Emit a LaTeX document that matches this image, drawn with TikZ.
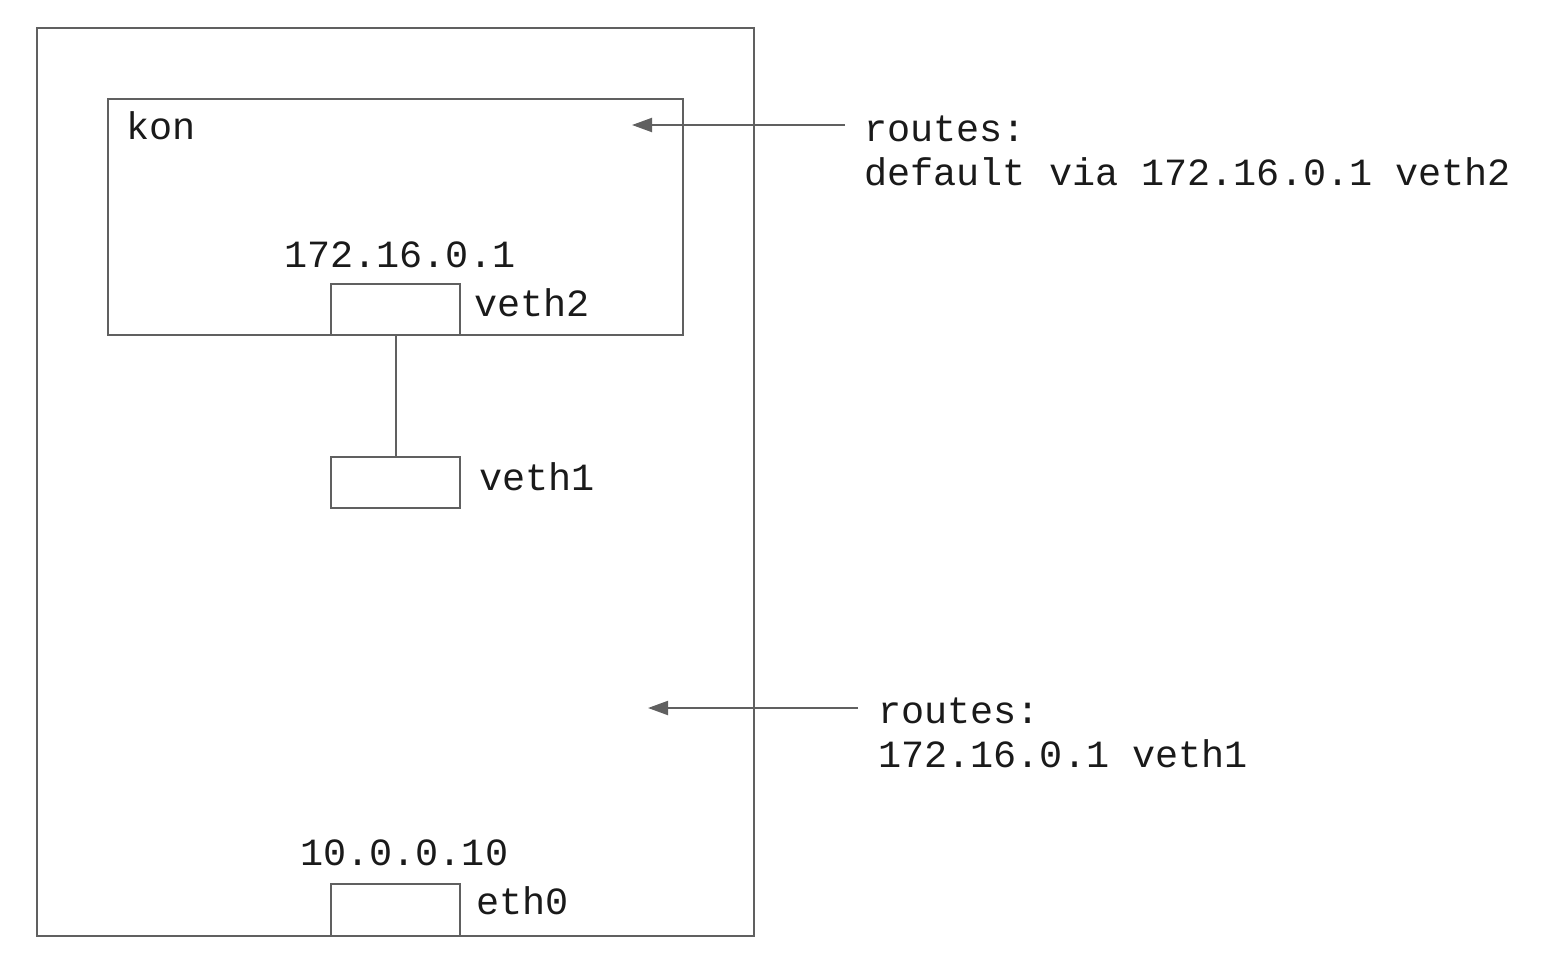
\documentclass[tikz,border=0pt]{standalone}
\usepackage{fontspec}
\setmonofont{Liberation Mono}
\usetikzlibrary{arrows.meta}
\definecolor{linegrey}{HTML}{606060}
\definecolor{txtgrey}{HTML}{1A1A1A}
\tikzset{
  box/.style={draw=linegrey, line width=2pt, inner sep=0pt},
  lbl/.style={inner sep=0pt, anchor=base west, text=txtgrey, font=\ttfamily\fontsize{38.5}{44}\selectfont},
  conn/.style={draw=linegrey, line width=2pt},
  arr/.style={draw=linegrey, line width=2pt, -{Triangle[length=20pt,width=14pt,fill=linegrey]}}
}
\begin{document}
\begin{tikzpicture}[x=1pt,y=-1pt]
\useasboundingbox (0,0) rectangle (1548,974);
% boxes
\node[box, minimum width=717pt, minimum height=908pt, anchor=north west] (host) at (36,27) {};
\node[box, minimum width=575pt, minimum height=236pt, anchor=north west] (kon) at (107,98) {};
\node[box, minimum width=129pt, minimum height=51pt, anchor=north west] (veth2) at (330,283) {};
\node[box, minimum width=129pt, minimum height=51pt, anchor=north west] (veth1) at (330,456) {};
\node[box, minimum width=129pt, minimum height=52pt, anchor=north west] (eth0) at (330,883) {};
% labels
\node[lbl] (konlbl) at (126,139) {kon};
\node[lbl] (ip2) at (284,267) {172.16.0.1};
\node[lbl] (v2lbl) at (474,316) {veth2};
\node[lbl] (v1lbl) at (479,490) {veth1};
\node[lbl] (ip0) at (300,865) {10.0.0.10};
\node[lbl] (e0lbl) at (476,914) {eth0};
\node[lbl] (r1a) at (864,141) {routes:};
\node[lbl] (r1b) at (864,185) {default via 172.16.0.1 veth2};
\node[lbl] (r2a) at (878,723) {routes:};
\node[lbl] (r2b) at (878,767) {172.16.0.1 veth1};
% connectors
\draw[conn] (veth2.south) -- (veth1.north);
\coordinate (a1s) at (845,125);
\coordinate (a1e) at (632,125);
\coordinate (a2s) at (858,708);
\coordinate (a2e) at (648,708);
\draw[arr] (a1s) -- (a1e);
\draw[arr] (a2s) -- (a2e);
\end{tikzpicture}
\end{document}
